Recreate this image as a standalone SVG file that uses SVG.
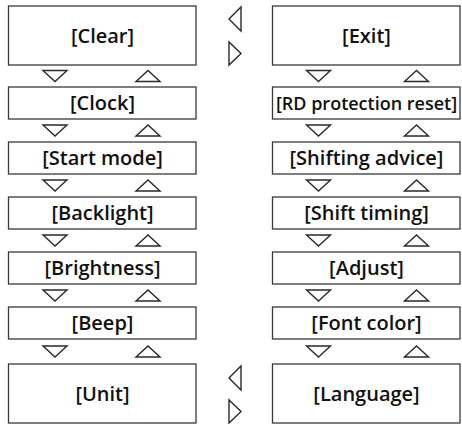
<svg xmlns="http://www.w3.org/2000/svg" xmlns:xlink="http://www.w3.org/1999/xlink" width="462" height="424" viewBox="0 0 462 424">
<style>
.box{fill:#fff;stroke:#3a3a3a;stroke-width:1.3}
.lbl{font-family:"Open Sans","Liberation Sans",sans-serif;font-weight:600;font-size:20px;fill:#111;text-anchor:middle}
.tri{fill:#fff;stroke:#2a2a2a;stroke-width:1.4;stroke-linejoin:miter}
</style>
<defs>
<path id="dn" class="tri" d="M-12,-5.5 L12,-5.5 L0,5.5 Z"/>
<path id="up" class="tri" d="M-12,5.5 L12,5.5 L0,-5.5 Z"/>
</defs>
<rect width="462" height="424" fill="#fff"/>
<g id="clear"><rect class="box" x="8.5" y="6" width="187.5" height="59"/><text class="lbl" x="102.5" y="42.5">[Clear]</text></g>
<g id="clock"><rect class="box" x="8.5" y="87" width="187.5" height="32"/><text class="lbl" x="102.5" y="110">[Clock]</text></g>
<g id="start-mode"><rect class="box" x="8.5" y="142" width="187.5" height="32"/><text class="lbl" x="102.5" y="165">[Start mode]</text></g>
<g id="backlight"><rect class="box" x="8.5" y="197" width="187.5" height="32"/><text class="lbl" x="102.5" y="220">[Backlight]</text></g>
<g id="brightness"><rect class="box" x="8.5" y="252" width="187.5" height="32"/><text class="lbl" x="102.5" y="275">[Brightness]</text></g>
<g id="beep"><rect class="box" x="8.5" y="307" width="187.5" height="32"/><text class="lbl" x="102.5" y="330">[Beep]</text></g>
<g id="unit"><rect class="box" x="8.5" y="364" width="187.5" height="59"/><text class="lbl" x="102.5" y="400.5">[Unit]</text></g>
<g id="exit"><rect class="box" x="272.5" y="6" width="187.5" height="59"/><text class="lbl" x="366.5" y="42.5">[Exit]</text></g>
<g id="rd-protection-reset"><rect class="box" x="272.5" y="87" width="187.5" height="32"/><text class="lbl" x="366.5" y="109.5" style="font-size:18px">[RD protection reset]</text></g>
<g id="shifting-advice"><rect class="box" x="272.5" y="142" width="187.5" height="32"/><text class="lbl" x="366.5" y="165">[Shifting advice]</text></g>
<g id="shift-timing"><rect class="box" x="272.5" y="197" width="187.5" height="32"/><text class="lbl" x="366.5" y="220">[Shift timing]</text></g>
<g id="adjust"><rect class="box" x="272.5" y="252" width="187.5" height="32"/><text class="lbl" x="366.5" y="275">[Adjust]</text></g>
<g id="font-color"><rect class="box" x="272.5" y="307" width="187.5" height="32"/><text class="lbl" x="366.5" y="330">[Font color]</text></g>
<g id="language"><rect class="box" x="272.5" y="364" width="187.5" height="59"/><text class="lbl" x="366.5" y="400.5">[Language]</text></g>
<g id="connectors">
<use xlink:href="#dn" x="55" y="76"/><use xlink:href="#up" x="148" y="76"/>
<use xlink:href="#dn" x="55" y="130.5"/><use xlink:href="#up" x="148" y="130.5"/>
<use xlink:href="#dn" x="55" y="185.5"/><use xlink:href="#up" x="148" y="185.5"/>
<use xlink:href="#dn" x="55" y="240.5"/><use xlink:href="#up" x="148" y="240.5"/>
<use xlink:href="#dn" x="55" y="295.5"/><use xlink:href="#up" x="148" y="295.5"/>
<use xlink:href="#dn" x="55" y="351.5"/><use xlink:href="#up" x="148" y="351.5"/>
<use xlink:href="#dn" x="318.5" y="76"/><use xlink:href="#up" x="416.5" y="76"/>
<use xlink:href="#dn" x="318.5" y="130.5"/><use xlink:href="#up" x="416.5" y="130.5"/>
<use xlink:href="#dn" x="318.5" y="185.5"/><use xlink:href="#up" x="416.5" y="185.5"/>
<use xlink:href="#dn" x="318.5" y="240.5"/><use xlink:href="#up" x="416.5" y="240.5"/>
<use xlink:href="#dn" x="318.5" y="295.5"/><use xlink:href="#up" x="416.5" y="295.5"/>
<use xlink:href="#dn" x="318.5" y="351.5"/><use xlink:href="#up" x="416.5" y="351.5"/>
<path class="tri" d="M241,7 L241,31 L229,19 Z"/>
<path class="tri" d="M229,42 L229,65 L241,53.5 Z"/>
<path class="tri" d="M241,366 L241,390 L229,378 Z"/>
<path class="tri" d="M229,400 L229,423 L241,411.5 Z"/>
</g>
</svg>
